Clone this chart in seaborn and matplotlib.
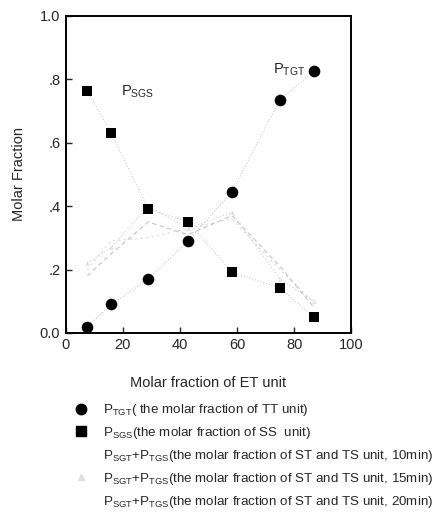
import matplotlib
matplotlib.use("Agg")
import matplotlib.pyplot as plt
import seaborn as sns
import pandas as pd
from matplotlib.lines import Line2D

sns.set_style("white")
plt.rcParams['font.family'] = ['Liberation Sans', 'DejaVu Sans']
plt.rcParams['mathtext.fontset'] = 'custom'
plt.rcParams['mathtext.rm'] = 'Liberation Sans'
plt.rcParams['mathtext.it'] = 'Liberation Sans'

# ---- data ----
et_fraction = [7.5, 15.9, 28.9, 42.8, 58.2, 75.0, 87.0]
p_tgt = [0.02, 0.09, 0.17, 0.29, 0.445, 0.735, 0.825]
p_sgs = [0.763, 0.631, 0.391, 0.35, 0.192, 0.142, 0.05]
p_st_10 = [0.20, 0.29, 0.30, 0.33, 0.36, 0.20, 0.095]
p_st_15 = [0.22, 0.27, 0.40, 0.33, 0.38, 0.17, 0.10]
p_st_20 = [0.18, 0.25, 0.35, 0.31, 0.37, 0.21, 0.08]
x_ticks = [0, 20, 40, 60, 80, 100]
y_ticks = [0.0, 0.2, 0.4, 0.6, 0.8, 1.0]
y_tick_labels = ['0.0', '.2', '.4', '.6', '.8', '1.0']

legend_labels = [
    r'P$_{\rm TGT}$( the molar fraction of TT unit)',
    r'P$_{\rm SGS}$(the molar fraction of SS  unit)',
    r'P$_{\rm SGT}$+P$_{\rm TGS}$(the molar fraction of ST and TS unit, 10min)',
    r'P$_{\rm SGT}$+P$_{\rm TGS}$(the molar fraction of ST and TS unit, 15min)',
    r'P$_{\rm SGT}$+P$_{\rm TGS}$(the molar fraction of ST and TS unit, 20min)',
]

df = pd.DataFrame({'x': et_fraction, 'tgt': p_tgt, 'sgs': p_sgs,
                   's10': p_st_10, 's15': p_st_15, 's20': p_st_20})

fig = plt.figure(figsize=(4.39, 5.13), dpi=100)
ax = fig.add_axes([0.150, 0.351, 0.650, 0.618])

# faint ST+TS series
sns.lineplot(data=df, x='x', y='s10', ax=ax, color='#d8d8d8', lw=0.8, linestyle=(0, (2, 3)))
sns.lineplot(data=df, x='x', y='s15', ax=ax, color='#cfcfcf', lw=0.8, linestyle=(0, (1, 2)))
sns.lineplot(data=df, x='x', y='s20', ax=ax, color='#c4c4c4', lw=0.8, linestyle=(0, (4, 3)))
sns.scatterplot(data=df, x='x', y='s15', ax=ax, color='#e6e6e6', s=12, marker='^', linewidth=0)

# faint connecting lines for main series
sns.lineplot(data=df, x='x', y='tgt', ax=ax, color='#bdbdbd', lw=0.7, linestyle=(0, (1, 2)))
sns.lineplot(data=df, x='x', y='sgs', ax=ax, color='#bdbdbd', lw=0.7, linestyle=(0, (1, 2)))

sns.scatterplot(data=df, x='x', y='tgt', ax=ax, color='black', marker='o', s=70,
                linewidth=0, zorder=5)
sns.scatterplot(data=df, x='x', y='sgs', ax=ax, color='black', marker='s', s=60,
                linewidth=0, zorder=5)

ax.set_xlim(0, 100)
ax.set_ylim(0, 1.0)
ax.set_xticks(x_ticks)
ax.set_yticks(y_ticks)
ax.set_yticklabels(y_tick_labels)
ax.tick_params(axis='both', direction='in', length=4, width=1.0, labelsize=10.5,
               bottom=True, left=True, top=False, right=False, pad=4)
for sp in ax.spines.values():
    sp.set_color('black')
    sp.set_linewidth(1.4)

ax.set_xlabel('Molar fraction of ET unit', fontsize=10.5, labelpad=17)
ax.set_ylabel('Molar Fraction', fontsize=10.5, labelpad=10)

ax.text(19.5, 0.76, r'P$_{\rm SGS}$', fontsize=10.5, va='center', ha='left')
ax.text(72.5, 0.83, r'P$_{\rm TGT}$', fontsize=10.5, va='center', ha='left')

handles = [
    Line2D([], [], marker='o', color='black', linestyle='none', markersize=7.5),
    Line2D([], [], marker='s', color='black', linestyle='none', markersize=6.5),
    Line2D([], [], marker='^', color='white', linestyle='none', markersize=5),
    Line2D([], [], marker='^', color='#e0e0e0', linestyle='none', markersize=5),
    Line2D([], [], marker='^', color='white', linestyle='none', markersize=5),
]
fig.legend(handles, legend_labels, loc='upper left', bbox_to_anchor=(0.170, 0.216),
           bbox_transform=fig.transFigure, frameon=False, fontsize=9.6,
           handlelength=1.0, handletextpad=1.1, labelspacing=0.52, borderpad=0,
           borderaxespad=0)

fig.savefig('out.png', dpi=100)
